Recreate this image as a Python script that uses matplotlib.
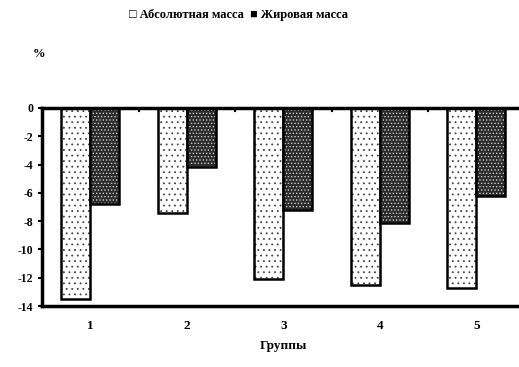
import numpy as np
import matplotlib.pyplot as plt

groups = ['1', '2', '3', '4', '5']
abs_mass = [-13.5, -7.4, -12.1, -12.5, -12.7]
fat_mass = [-6.8, -4.2, -7.2, -8.1, -6.2]
yticks = [0, -2, -4, -6, -8, -10, -12, -14]

plt.rcParams['font.family'] = ['Liberation Serif', 'DejaVu Serif']
plt.rcParams['font.weight'] = 'bold'
plt.rcParams['hatch.linewidth'] = 0.6

fig = plt.figure(figsize=(5.19, 3.67), dpi=100)
ax = fig.add_axes([0.081, 0.166, 0.93, 0.54])

x = np.arange(len(groups))
w = 0.3

# light bars: white with sparse dots
ax.bar(x - w / 2, abs_mass, w, facecolor='white', edgecolor='#444444', hatch='...', linewidth=0)
ax.bar(x - w / 2, abs_mass, w, facecolor='none', edgecolor='black', linewidth=1.8)
# dark bars: dark with light dots, then a black outline
ax.bar(x + w / 2, fat_mass, w, facecolor='#2a2a2a', edgecolor='#cccccc', hatch='.....', linewidth=0)
ax.bar(x + w / 2, fat_mass, w, facecolor='none', edgecolor='black', linewidth=1.8)

ax.set_xlim(-0.5, 4.5)
ax.set_ylim(-14, 0)
ax.set_yticks(yticks)
ax.set_yticklabels([str(t) for t in yticks], fontsize=8.5, fontweight='bold')
ax.set_xticks(x)
ax.set_xticklabels(groups, fontsize=9.5, fontweight='bold')
ax.tick_params(axis='x', length=0, pad=10)
ax.tick_params(axis='y', length=3, width=1.5, direction='out')

# small marks between groups on the zero line
for xs in x[:-1] + 0.5:
    ax.plot([xs, xs], [0, -0.25], color='black', lw=1.5)

for s in ax.spines.values():
    s.set_linewidth(2.5)
ax.spines['right'].set_visible(False)

ax.set_xlabel('Группы', fontsize=9.5, fontweight='bold', labelpad=6)
fig.text(0.075, 0.845, '%', fontsize=9, fontweight='bold', ha='center')
fig.text(0.46, 0.96, '□ Абсолютная масса  ■ Жировая масса', fontsize=9,
         fontweight='bold', ha='center', va='center')

fig.savefig('out.png', dpi=100)
